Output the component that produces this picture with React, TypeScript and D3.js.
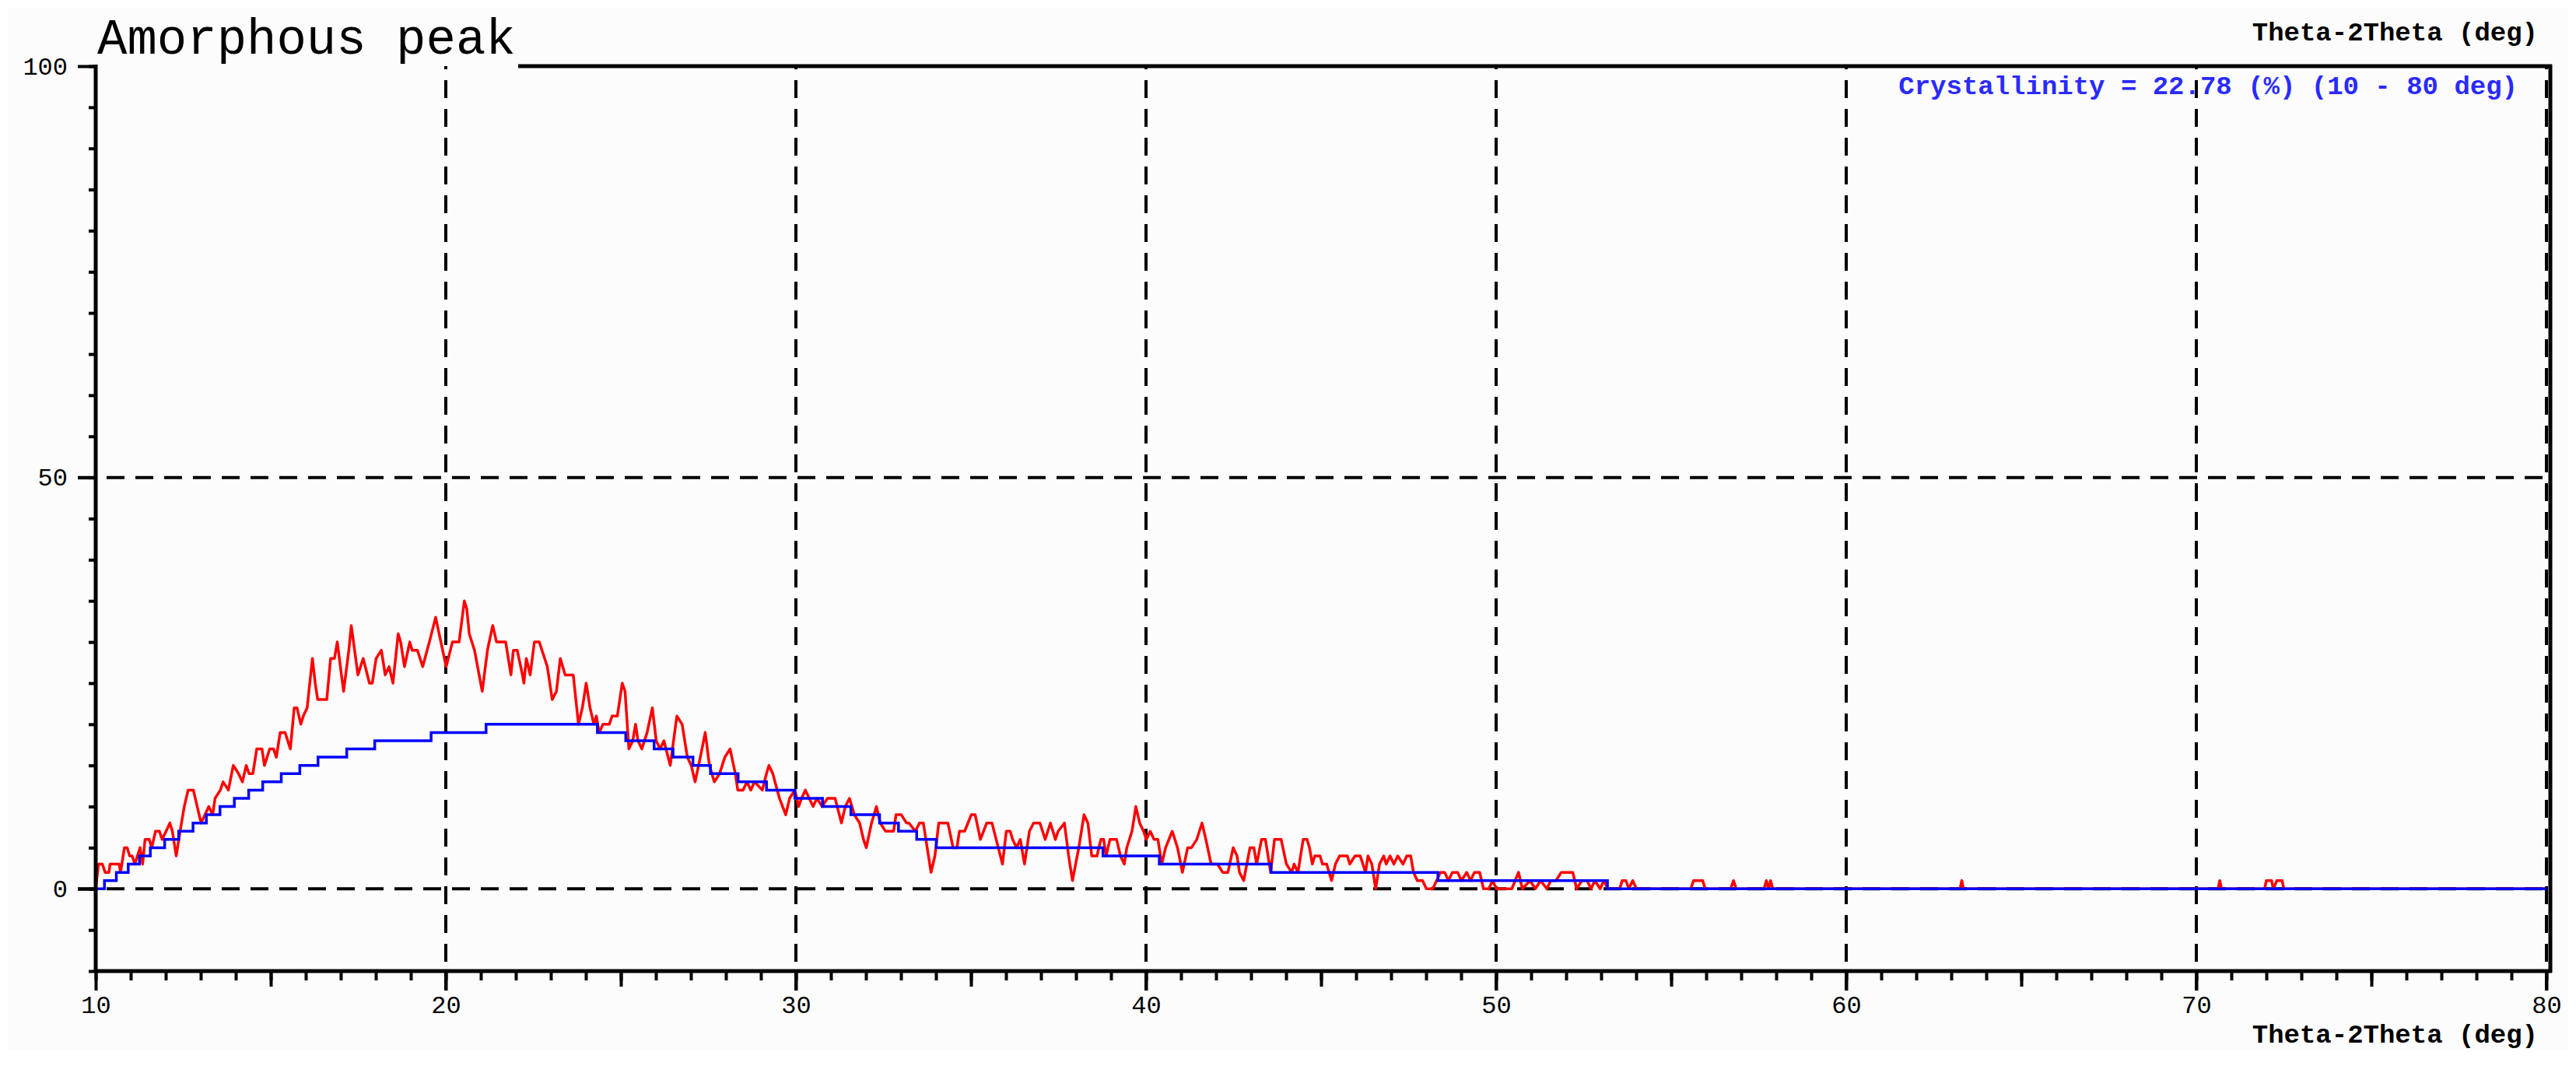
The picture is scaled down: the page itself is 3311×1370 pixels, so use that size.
import React, { useEffect, useRef } from "react";
import * as d3 from "d3";

const title = "Amorphous peak";
const axisTitle = "Theta-2Theta (deg)";
const note = "Crystallinity = 22.78 (%) (10 - 80 deg)";

const xLabels = [10, 20, 30, 40, 50, 60, 70, 80];
const yLabels = [0, 50, 100];
const xGrid = [20, 30, 40, 50, 60, 70, 80];
const yGrid = [0, 50];

const scanRise: [number, number][] = [
  [10.0, 0], [10.08, 3], [10.19, 3], [10.27, 2], [10.38, 2], [10.41, 3], [10.67, 3], [10.71, 2],
  [10.82, 5], [10.9, 5], [10.97, 4], [11.04, 4], [11.12, 3], [11.19, 4], [11.27, 5], [11.34, 3],
  [11.41, 6], [11.53, 6], [11.6, 5], [11.71, 7], [11.82, 7], [11.9, 6], [12.01, 7], [12.12, 8],
  [12.19, 7], [12.3, 4], [12.45, 8], [12.53, 10], [12.64, 12], [12.79, 12], [12.9, 10], [13.01, 8],
  [13.12, 9], [13.23, 10], [13.34, 9], [13.41, 11], [13.56, 12], [13.64, 13], [13.79, 12], [13.93, 15],
  [14.08, 14], [14.19, 13], [14.3, 15], [14.38, 14], [14.49, 14], [14.6, 17], [14.75, 17], [14.82, 15],
  [14.97, 17], [15.08, 17], [15.16, 16], [15.27, 19], [15.41, 19], [15.56, 17], [15.67, 22], [15.75, 22],
  [15.86, 20], [15.93, 21], [16.04, 22], [16.19, 28], [16.27, 25], [16.34, 23], [16.6, 23], [16.71, 28],
  [16.82, 28], [16.9, 30], [17.08, 24], [17.23, 29], [17.3, 32], [17.49, 26], [17.64, 28], [17.82, 25],
  [17.9, 25], [18.01, 28], [18.16, 29], [18.27, 26], [18.38, 27], [18.49, 25], [18.64, 31], [18.71, 30],
  [18.82, 27], [18.97, 30], [19.04, 29], [19.19, 29], [19.34, 27], [19.53, 30], [19.71, 33], [19.86, 30],
  [20.01, 27], [20.19, 30], [20.38, 30], [20.53, 35], [20.6, 34], [20.67, 31], [20.82, 29], [21.04, 24],
  [21.19, 29], [21.34, 32], [21.45, 30],
];

const scanFall: [number, number][] = [
  [21.71, 30], [21.86, 26], [21.93, 29], [22.04, 29], [22.19, 26], [22.23, 25], [22.3, 28], [22.41, 26],
  [22.53, 30], [22.67, 30], [22.9, 27], [23.04, 23], [23.16, 24], [23.27, 28], [23.41, 26], [23.64, 26],
  [23.79, 20], [23.9, 22], [24.01, 25], [24.12, 22], [24.23, 20], [24.3, 21], [24.38, 19], [24.49, 20],
  [24.67, 20], [24.75, 21], [24.9, 21], [25.04, 25], [25.12, 24], [25.23, 17], [25.34, 18], [25.42, 20],
  [25.49, 18], [25.6, 17], [25.75, 19], [25.9, 22], [26.01, 18], [26.12, 17], [26.23, 18], [26.41, 15],
  [26.6, 21], [26.75, 20], [26.9, 16], [27.01, 15], [27.12, 13], [27.27, 16], [27.41, 19], [27.53, 15],
  [27.67, 13], [27.82, 14], [27.97, 16], [28.12, 17], [28.27, 14], [28.34, 12], [28.49, 12], [28.6, 13],
  [28.71, 12], [28.82, 13], [29.04, 12], [29.16, 14], [29.23, 15], [29.34, 14], [29.53, 11], [29.71, 9],
  [29.82, 11], [29.97, 12], [30.08, 10], [30.16, 11], [30.27, 12], [30.38, 11], [30.49, 10], [30.6, 11],
  [30.75, 10], [30.9, 11], [31.12, 11], [31.3, 8], [31.41, 10], [31.53, 11], [31.67, 9], [31.82, 8],
  [31.93, 6], [32.01, 5], [32.16, 8], [32.3, 10], [32.41, 8], [32.56, 7], [32.79, 7], [32.86, 9],
  [33.01, 9],
];

const scanTail: [number, number][] = [
  [33.16, 8], [33.23, 8], [33.41, 7], [33.53, 8], [33.64, 8], [33.75, 5], [33.86, 2], [33.97, 4],
  [34.08, 8], [34.34, 8], [34.49, 5], [34.6, 5], [34.67, 7], [34.82, 7], [35.01, 9], [35.12, 9],
  [35.27, 6], [35.45, 8], [35.6, 8], [35.78, 5], [35.9, 3], [36.01, 7], [36.12, 7], [36.19, 6],
  [36.3, 5], [36.41, 6], [36.53, 3], [36.67, 7], [36.79, 8], [36.97, 8], [37.12, 6], [37.27, 8],
  [37.41, 6], [37.49, 7], [37.67, 8], [37.79, 4], [37.9, 1], [38.08, 5], [38.23, 9], [38.34, 8],
  [38.45, 4], [38.6, 4], [38.71, 6], [38.79, 6], [38.86, 4], [38.97, 6], [39.16, 6], [39.27, 4],
  [39.38, 3], [39.45, 5], [39.6, 7], [39.71, 10], [39.82, 8], [39.93, 7], [40.01, 6], [40.12, 7],
  [40.23, 6], [40.34, 6], [40.45, 3], [40.56, 5], [40.75, 7], [40.9, 5], [41.04, 2], [41.19, 5],
  [41.3, 5], [41.45, 6], [41.6, 8], [41.71, 6], [41.86, 3], [42.04, 3], [42.19, 2], [42.34, 2],
  [42.49, 5], [42.6, 4], [42.67, 2], [42.79, 1], [42.97, 5], [43.08, 5], [43.16, 3], [43.3, 6],
  [43.41, 6], [43.56, 2], [43.67, 6], [43.86, 6], [44.01, 3], [44.16, 2], [44.23, 3], [44.34, 2],
  [44.49, 6], [44.6, 6],
];

const scanFlat: [number, number][] = [
  [44.67, 5], [44.75, 3], [44.82, 4], [44.97, 4], [45.04, 3], [45.16, 3], [45.3, 1], [45.41, 3],
  [45.53, 4], [45.75, 4], [45.82, 3], [45.97, 4], [46.12, 4], [46.27, 2], [46.34, 4], [46.45, 3],
  [46.56, 0], [46.67, 3], [46.79, 4], [46.86, 3], [46.97, 4], [47.08, 3], [47.19, 4], [47.34, 3],
  [47.45, 4], [47.56, 4], [47.64, 2], [47.75, 1], [47.9, 1], [48.01, 0], [48.19, 0], [48.3, 1],
  [48.41, 2], [48.53, 2], [48.64, 1], [48.75, 2], [48.9, 2], [49.01, 1], [49.16, 2], [49.27, 1],
  [49.38, 2], [49.53, 2], [49.64, 0], [49.79, 0], [49.9, 1], [50.01, 0], [50.45, 0], [50.64, 2],
  [50.75, 0], [50.97, 1], [51.12, 0], [51.27, 1], [51.45, 0], [51.56, 1], [51.71, 1], [51.86, 2],
  [52.19, 2], [52.3, 0], [52.45, 1], [52.6, 1], [52.71, 0], [52.82, 1], [52.97, 0], [53.08, 1],
  [53.19, 0], [53.53, 0], [53.6, 1], [53.71, 1], [53.79, 0], [53.9, 1], [54.01, 0], [55.56, 0],
  [55.64, 1], [55.9, 1], [55.97, 0], [56.7, 0], [56.78, 1], [56.86, 0], [57.65, 0], [57.72, 1],
  [57.78, 0], [57.84, 1], [57.9, 0], [63.25, 0], [63.3, 1], [63.35, 0], [70.62, 0], [70.67, 1],
  [70.72, 0], [71.95, 0], [72.0, 1], [72.15, 1], [72.2, 0], [72.3, 1], [72.45, 1], [72.5, 0],
  [80.0, 0],
];

// amorphous background: each level starts at the given 2theta
const bgStart = [
  10.0, 10.25, 10.59, 10.93, 11.25, 11.56, 11.97, 12.37, 12.78, 13.16, 13.55, 13.96, 14.37, 14.77,
  15.3, 15.83, 16.35, 17.17, 17.97, 19.58, 21.15, 24.33, 25.14, 25.95, 26.49, 27.06, 27.56, 28.35,
  29.16, 29.97, 30.76, 31.57, 32.39, 32.93, 33.45, 34.01, 38.77, 40.38, 43.57, 48.34, 53.18, 80.0,
];
const bgLevel = [
  0, 1, 2, 3, 4, 5, 6, 7, 8, 9, 10, 11, 12, 13,
  14, 15, 16, 17, 18, 19, 20, 19, 18, 17, 16, 15, 14, 13,
  12, 11, 10, 9, 8, 7, 6, 5, 4, 3, 2, 1, 0, 0,
];

const App = () => {
  const svgRef = useRef<SVGSVGElement>(null);
  const width = 3311, height = 1370;
  const left = 123, right = 3273, top = 85, bottom = 1248;

  useEffect(() => {
    document.body.style.margin = "0";
    const svg = d3.select(svgRef.current);
    svg.selectAll("*").remove();
    const font = "'Liberation Mono', monospace";

    const x = d3.scaleLinear().domain([10, 80]).range([left, right]);
    const y = d3.scaleLinear().domain([-10, 100]).range([bottom, top]);

    svg.append("rect")
      .attr("x", 10).attr("y", 10)
      .attr("width", width - 20).attr("height", height - 30)
      .attr("fill", "#fcfcfc");

    // dashed grid
    const grid = svg.append("g")
      .attr("stroke", "#000")
      .attr("stroke-width", 4)
      .attr("stroke-dasharray", "23 14");
    xGrid.forEach(v => {
      grid.append("line")
        .attr("x1", x(v)).attr("x2", x(v))
        .attr("y1", bottom + 25).attr("y2", top);
    });
    yGrid.forEach(v => {
      grid.append("line")
        .attr("x1", left - 23).attr("x2", right)
        .attr("y1", y(v)).attr("y2", y(v));
    });

    // data
    const line = d3.line<[number, number]>()
      .x(d => x(d[0]))
      .y(d => y(d[1]));
    const scan = [...scanRise, ...scanFall, ...scanTail, ...scanFlat];
    svg.append("path")
      .datum(scan)
      .attr("fill", "none")
      .attr("stroke", "#ff0000")
      .attr("stroke-width", 3.5)
      .attr("stroke-linejoin", "round")
      .attr("d", line);

    const bg: [number, number][] = bgStart.map((t, i) => [t, bgLevel[i]]);
    svg.append("path")
      .datum(bg)
      .attr("fill", "none")
      .attr("stroke", "#0000ff")
      .attr("stroke-width", 3.5)
      .attr("d", line.curve(d3.curveStepAfter));

    // axes
    const styleAxis = (g, size) => {
      g.select(".domain").remove();
      g.selectAll("line").attr("stroke", "#000").attr("stroke-width", 4);
      g.selectAll("text")
        .attr("fill", "#000")
        .style("font-family", font)
        .style("font-size", size + "px");
    };

    svg.append("g")
      .attr("transform", `translate(0,${bottom})`)
      .call(d3.axisBottom(x).tickValues(d3.range(10, 81, 1)).tickSize(12).tickFormat(() => ""))
      .call(g => styleAxis(g, 0));
    svg.append("g")
      .attr("transform", `translate(0,${bottom})`)
      .call(d3.axisBottom(x).tickValues(d3.range(15, 80, 10)).tickSize(20).tickFormat(() => ""))
      .call(g => styleAxis(g, 0));
    svg.append("g")
      .attr("transform", `translate(0,${bottom})`)
      .call(d3.axisBottom(x).tickValues(xLabels).tickSize(25).tickPadding(6).tickFormat(d3.format("d")))
      .call(g => styleAxis(g, 32));

    svg.append("g")
      .attr("transform", `translate(${left},0)`)
      .call(d3.axisLeft(y).tickValues(d3.range(-10, 101, 5)).tickSize(9).tickFormat(() => ""))
      .call(g => styleAxis(g, 0));
    svg.append("g")
      .attr("transform", `translate(${left},0)`)
      .call(d3.axisLeft(y).tickValues(yLabels).tickSize(23).tickPadding(13).tickFormat(d3.format("d")))
      .call(g => styleAxis(g, 32));

    // frame
    const frame = svg.append("g").attr("stroke", "#000").attr("stroke-width", 5);
    frame.append("line").attr("x1", left).attr("x2", left).attr("y1", top - 2).attr("y2", bottom + 2);
    frame.append("line").attr("x1", left).attr("x2", right + 7).attr("y1", bottom).attr("y2", bottom);
    frame.append("line").attr("x1", 666).attr("x2", right + 7).attr("y1", top).attr("y2", top);
    frame.append("line").attr("x1", right + 5).attr("x2", right + 5).attr("y1", top - 2).attr("y2", bottom + 2);

    // texts
    svg.append("text")
      .attr("x", 125).attr("y", 69)
      .style("font-family", font).style("font-size", "64px")
      .attr("fill", "#000")
      .text(title);

    svg.append("text")
      .attr("x", 3262).attr("y", 52)
      .attr("text-anchor", "end")
      .style("font-family", font).style("font-size", "34px").style("font-weight", "bold")
      .attr("fill", "#000")
      .text(axisTitle);

    svg.append("text")
      .attr("x", 3262).attr("y", 1340)
      .attr("text-anchor", "end")
      .style("font-family", font).style("font-size", "34px").style("font-weight", "bold")
      .attr("fill", "#000")
      .text(axisTitle);

    svg.append("text")
      .attr("x", 3236).attr("y", 121)
      .attr("text-anchor", "end")
      .style("font-family", font).style("font-size", "34px").style("font-weight", "bold")
      .attr("fill", "#2a2aff")
      .text(note);
  }, []);

  return <svg ref={svgRef} width={width} height={height} style={{ display: "block" }}></svg>;
};

export default App;
